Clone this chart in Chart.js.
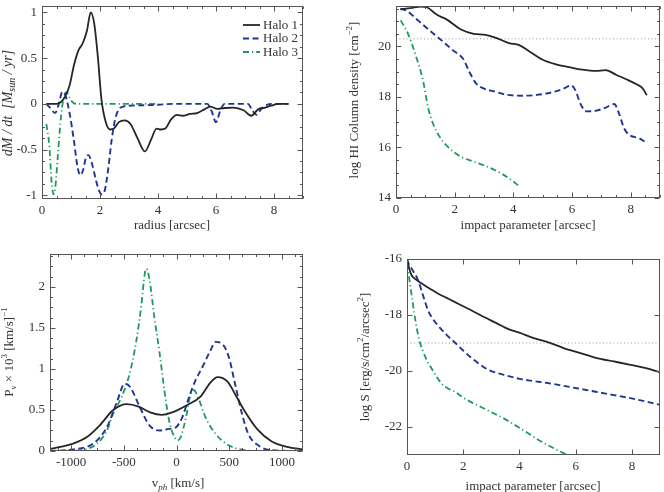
<!DOCTYPE html>
<html>
<head>
<meta charset="utf-8">
<script src="https://cdn.jsdelivr.net/npm/chart.js@4.4.0/dist/chart.umd.min.js"></script>
<style>
  html, body { margin: 0; padding: 0; background: #fff; }
  #wrap { position: relative; width: 664px; height: 492px; }
  #wrap canvas { position: absolute; left: 0; top: 0; }
</style>
</head>
<body>
<div id="wrap">
  <canvas id="c1" width="664" height="492"></canvas>
  <canvas id="c2" width="664" height="492"></canvas>
  <canvas id="c3" width="664" height="492"></canvas>
  <canvas id="c4" width="664" height="492"></canvas>
</div>
<script>
// ---- data ----
const haloNames = ['Halo 1', 'Halo 2', 'Halo 3'];

// panel 1: dM/dt vs radius
const rateR1 = [0.15,0.5,0.65,0.8,0.95,1.1,1.25,1.4,1.55,1.68,1.8,1.93,2.05,2.2,2.35,2.48,2.65,2.85,3.05,3.3,3.55,3.75,3.95,4.1,4.25,4.45,4.65,4.85,5.1,5.35,5.6,5.8,6.05,6.3,6.6,6.95,7.22,7.45,7.7,7.9,8.15,8.5];
const rate1  = [0,0,0.02,0.08,0.2,0.42,0.58,0.66,0.8,1.0,0.88,0.5,0.05,-0.2,-0.28,-0.27,-0.2,-0.18,-0.22,-0.38,-0.52,-0.4,-0.27,-0.28,-0.27,-0.17,-0.12,-0.13,-0.11,-0.1,-0.06,-0.03,-0.055,-0.045,-0.04,-0.07,-0.13,-0.06,-0.04,-0.02,0,0];
const rateR2 = [0.15,0.3,0.45,0.58,0.7,0.82,0.95,1.1,1.22,1.32,1.42,1.52,1.6,1.72,1.85,1.97,2.07,2.17,2.28,2.4,2.52,2.65,2.8,3.0,3.5,4.0,4.5,5.0,5.7,5.85,6.0,6.15,6.3,7.1,7.25,7.4,7.55,7.75,8.0,8.5];
const rate2  = [0,-0.05,-0.1,0.0,0.13,0.08,-0.1,-0.4,-0.68,-0.78,-0.72,-0.58,-0.56,-0.65,-0.82,-0.95,-0.99,-0.94,-0.72,-0.4,-0.17,-0.06,-0.03,-0.02,-0.015,-0.01,0,0,0,-0.08,-0.2,-0.07,0,0,-0.07,-0.12,-0.06,-0.01,0,0];
const rateR3 = [0.15,0.25,0.33,0.4,0.47,0.55,0.63,0.7,0.78,0.85,0.95,1.05,1.2,2.0,3.0,4.0];
const rate3  = [-0.22,-0.45,-0.85,-0.99,-0.88,-0.55,-0.22,-0.02,0.1,0.13,0.07,0.02,0,0,0,0];
const rateXTicks = [0, 2, 4, 6, 8];
const rateYTicks = [-1, -0.5, 0, 0.5, 1];

// panel 2: log HI column density vs impact parameter
const colB1 = [0.15,0.5,0.85,1.05,1.4,1.75,2.2,2.65,3.05,3.45,3.85,4.2,4.55,5.0,5.45,5.9,6.35,6.8,7.15,7.5,7.85,8.2,8.4,8.55];
const col1  = [21.47,21.52,21.58,21.55,21.25,21.05,20.68,20.5,20.46,20.32,20.13,20.05,19.8,19.47,19.29,19.18,19.08,19.03,19.06,18.88,18.7,18.5,18.35,18.07];
const colB2 = [0.15,0.35,0.75,1.15,1.55,1.95,2.28,2.5,2.72,3.0,3.35,3.8,4.3,4.8,5.3,5.7,5.97,6.12,6.3,6.5,6.8,7.15,7.44,7.6,7.78,7.95,8.3,8.57];
const col2  = [21.49,21.42,21.03,20.63,20.24,19.84,19.52,19.0,18.55,18.33,18.22,18.08,18.05,18.08,18.18,18.32,18.46,18.25,17.7,17.43,17.45,17.58,17.72,17.35,16.75,16.5,16.36,16.16];
const colB3 = [0.16,0.41,0.69,0.92,1.09,1.26,1.49,1.77,2.22,2.68,3.13,3.59,3.93,4.22];
const col3  = [21.03,20.5,19.58,18.66,17.6,16.95,16.42,16.02,15.63,15.43,15.23,14.97,14.71,14.45];
const colLimit = 20.3;
const colXTicks = [0, 2, 4, 6, 8];
const colYTicks = [14, 16, 18, 20];

// panel 3: velocity distribution
const velV1 = [-1200,-1100,-980,-850,-730,-600,-470,-360,-250,-140,-40,100,225,320,390,480,570,640,770,900,1050,1200];
const velP1 = [0.025,0.05,0.09,0.17,0.31,0.5,0.57,0.54,0.47,0.44,0.47,0.56,0.66,0.83,0.9,0.85,0.66,0.5,0.26,0.12,0.05,0.02];
const velV2 = [-1200,-980,-790,-660,-570,-490,-440,-350,-255,-160,-70,-5,55,120,180,245,320,370,430,495,555,620,680,775,900,1200];
const velP2 = [0,0.02,0.09,0.29,0.58,0.82,0.78,0.54,0.31,0.25,0.27,0.29,0.41,0.66,0.86,1.02,1.22,1.33,1.31,1.15,0.82,0.46,0.21,0.07,0.01,0];
const velV3 = [-1200,-910,-755,-660,-600,-520,-445,-380,-335,-300,-285,-255,-210,-160,-115,-70,-20,10,40,90,135,165,215,275,370,495,650,800,1200];
const velP3 = [0,0.01,0.09,0.25,0.46,0.66,0.94,1.35,1.76,2.17,2.22,2.08,1.63,1.19,0.74,0.37,0.17,0.13,0.17,0.41,0.7,0.74,0.62,0.41,0.21,0.07,0.01,0,0];
const velXTicks = [-1000, -500, 0, 500, 1000];
const velYTicks = [0, 0.5, 1, 1.5, 2];

// panel 4: surface brightness vs impact parameter
const sbB1 = [0,0.08,0.16,0.3,0.51,0.8,1.11,1.41,1.71,2.0,2.3,2.6,2.9,3.2,3.49,3.79,4.08,4.38,4.98,5.57,6.17,6.76,7.36,7.95,8.5,9.0];
const sb1  = [-16.0,-16.35,-16.57,-16.72,-16.87,-17.05,-17.24,-17.39,-17.54,-17.69,-17.84,-18.0,-18.15,-18.3,-18.45,-18.57,-18.66,-18.78,-18.96,-19.18,-19.36,-19.54,-19.66,-19.78,-19.9,-20.05];
const sbB2 = [0,0.05,0.2,0.39,0.57,0.75,0.93,1.11,1.4,1.71,2.0,2.3,2.6,2.9,3.2,3.49,4.0,4.5,5.0,5.57,6.17,6.76,7.36,7.95,8.5,9.0];
const sb2  = [-16.0,-16.15,-16.4,-16.75,-17.3,-17.84,-18.15,-18.39,-18.7,-18.99,-19.27,-19.54,-19.77,-19.96,-20.07,-20.15,-20.28,-20.36,-20.43,-20.53,-20.64,-20.75,-20.86,-20.97,-21.09,-21.21];
const sbB3 = [0,0.06,0.13,0.21,0.3,0.39,0.48,0.57,0.72,0.87,1.05,1.23,1.45,1.71,2.0,2.3,2.6,2.9,3.2,3.49,3.79,4.08,4.38,4.56,4.98,5.4,5.8];
const sb3  = [-16.15,-16.57,-17.05,-17.6,-18.2,-18.69,-19.05,-19.3,-19.65,-19.9,-20.2,-20.45,-20.62,-20.75,-20.95,-21.12,-21.27,-21.42,-21.57,-21.72,-21.9,-22.08,-22.27,-22.39,-22.63,-22.85,-23.05];
const sbLimit = -19;
const sbXTicks = [0, 2, 4, 6, 8];
const sbYTicks = [-22, -20, -18, -16];

// ---- styling ----
const FONT = '"Liberation Serif", "Times New Roman", serif';
const TXT = '#333';
const styles = [
  { color: '#262626', dash: [], width: 1.8 },
  { color: '#1f3592', dash: [6, 3.5], width: 1.9 },
  { color: '#1f9a5c', dash: [6, 3, 1.2, 3], width: 1.8 }
];

const pts = (xs, ys) => xs.map((x, i) => ({ x, y: ys[i] }));

function haloSets(list) {
  return list.map((d, i) => ({
    label: haloNames[i],
    data: pts(d[0], d[1]),
    borderColor: styles[i].color,
    borderDash: styles[i].dash,
    borderWidth: styles[i].width,
    fill: false
  }));
}

function limitSet(x0, x1, y) {
  return {
    label: 'limit',
    data: [{ x: x0, y }, { x: x1, y }],
    borderColor: '#9a9a9a', borderDash: [1, 2.5], borderWidth: 1, fill: false
  };
}

// rich text: parts = [[text, style]], style may contain i / sub / sup
function drawRich(ctx, parts, x, y, rot, size) {
  const fontFor = st => (st.indexOf('i') === 0 ? 'italic ' : '') +
    ((st.includes('sub') || st.includes('sup')) ? Math.round(size * 0.72) : size) + 'px ' + FONT;
  ctx.save();
  ctx.translate(x, y);
  if (rot) ctx.rotate(-Math.PI / 2);
  let w = 0;
  parts.forEach(p => { ctx.font = fontFor(p[1]); w += ctx.measureText(p[0]).width; });
  let cx = -w / 2;
  ctx.textBaseline = 'middle';
  ctx.fillStyle = TXT;
  parts.forEach(p => {
    ctx.font = fontFor(p[1]);
    const dy = p[1].includes('sub') ? size * 0.3 : p[1].includes('sup') ? -size * 0.38 : 0;
    ctx.fillText(p[0], cx, dy);
    cx += ctx.measureText(p[0]).width;
  });
  ctx.restore();
}

// matlab-like box with inward ticks, titles and legend
const framePlugin = {
  id: 'frame',
  afterDraw(chart, args, o) {
    const { ctx, chartArea: a, scales } = chart;
    const L = Math.round(a.left) + 0.5, R = Math.round(a.right) - 0.5;
    const T = Math.round(a.top) + 0.5, B = Math.round(a.bottom) - 0.5;
    ctx.save();
    ctx.strokeStyle = '#555';
    ctx.lineWidth = 1;
    ctx.setLineDash([]);
    ctx.strokeRect(L, T, R - L, B - T);

    const tickSet = (scale, minor) => {
      const vals = scale.ticks.map(t => t.value);
      const out = { major: vals, minor: [] };
      if (minor && vals.length > 1) {
        const ms = (vals[1] - vals[0]) / minor;
        for (let v = Math.ceil(scale.min / ms) * ms; v <= scale.max + 1e-9; v += ms) {
          if (!vals.some(m => Math.abs(m - v) < ms / 10)) out.minor.push(v);
        }
      }
      return out;
    };
    ctx.beginPath();
    const xs = tickSet(scales.x, o.minor);
    [[xs.major, 5], [xs.minor, 2.5]].forEach(([vals, len]) => vals.forEach(v => {
      const p = Math.round(scales.x.getPixelForValue(v)) + 0.5;
      ctx.moveTo(p, B); ctx.lineTo(p, B - len);
      ctx.moveTo(p, T); ctx.lineTo(p, T + len);
    }));
    const ys = tickSet(scales.y, o.minor);
    [[ys.major, 5], [ys.minor, 2.5]].forEach(([vals, len]) => vals.forEach(v => {
      const p = Math.round(scales.y.getPixelForValue(v)) + 0.5;
      ctx.moveTo(L, p); ctx.lineTo(L + len, p);
      ctx.moveTo(R, p); ctx.lineTo(R - len, p);
    }));
    ctx.stroke();

    (o.titles || []).forEach(t => drawRich(ctx, t.parts, t.x, t.y, t.rot, t.size || 13));

    if (o.legend) {
      const lg = o.legend;
      chart.data.datasets.slice(0, 3).forEach((ds, i) => {
        const y = lg.y + i * lg.dy;
        ctx.beginPath();
        ctx.strokeStyle = ds.borderColor;
        ctx.lineWidth = ds.borderWidth;
        ctx.setLineDash(ds.borderDash || []);
        ctx.moveTo(lg.x, y); ctx.lineTo(lg.x + lg.len, y);
        ctx.stroke();
        ctx.setLineDash([]);
        ctx.fillStyle = TXT;
        ctx.font = '13px ' + FONT;
        ctx.textBaseline = 'middle';
        ctx.fillText(ds.label, lg.x + lg.len + 3, y + 0.5);
      });
    }
    ctx.restore();
  }
};

// plot box in page pixels: [left, top, right, bottom]
function panel(id, datasets, box, xr, yr, xTicks, yTicks, frame) {
  const YW = 40, XH = 20;
  const noPad = s => { s.paddingTop = 0; s.paddingBottom = 0; s.paddingLeft = 0; s.paddingRight = 0; };
  return new Chart(document.getElementById(id), {
    type: 'line',
    data: { datasets },
    options: {
      responsive: false,
      animation: false,
      layout: { padding: { left: box[0] - YW, top: box[1], right: 664 - box[2], bottom: 492 - box[3] - XH } },
      elements: { point: { radius: 0 }, line: { cubicInterpolationMode: 'monotone', borderCapStyle: 'butt' } },
      plugins: { legend: { display: false }, tooltip: { enabled: false }, frame },
      scales: {
        x: {
          type: 'linear', min: xr[0], max: xr[1],
          grid: { display: false, drawTicks: false }, border: { display: false },
          afterBuildTicks: s => { s.ticks = xTicks.map(v => ({ value: v })); },
          afterFit: s => { s.height = XH; noPad(s); },
          ticks: { font: { family: FONT, size: 13 }, color: TXT, padding: 4, maxRotation: 0, autoSkip: false, callback: v => String(v) }
        },
        y: {
          type: 'linear', min: yr[0], max: yr[1],
          grid: { display: false, drawTicks: false }, border: { display: false },
          afterBuildTicks: s => { s.ticks = yTicks.map(v => ({ value: v })); },
          afterFit: s => { s.width = YW; noPad(s); },
          ticks: { font: { family: FONT, size: 13 }, color: TXT, padding: 5, autoSkip: false, callback: v => String(v) }
        }
      }
    },
    plugins: [framePlugin]
  });
}

panel('c1',
  haloSets([[rateR1, rate1], [rateR2, rate2], [rateR3, rate3]]),
  [42, 6, 303, 199], [0, 9], [-1.04, 1.07], rateXTicks, rateYTicks,
  { minor: 4,
    legend: { x: 243, y: 25, dy: 13.5, len: 17 },
    titles: [
      { parts: [['radius [arcsec]', '']], x: 172, y: 226 },
      { parts: [['dM / dt  [M', 'i'], ['sun', 'isub'], [' / yr]', 'i']], x: 8, y: 103, rot: true, size: 14 }
    ] });

panel('c2',
  haloSets([[colB1, col1], [colB2, col2], [colB3, col3]]).concat([limitSet(0, 9, colLimit)]),
  [396, 6, 660, 198], [0, 9], [14, 21.6], colXTicks, colYTicks,
  { minor: 4,
    titles: [
      { parts: [['impact parameter [arcsec]', '']], x: 528, y: 226 },
      { parts: [['log HI Column density [cm', ''], ['\u22122', 'sup'], [']', '']], x: 355, y: 100, rot: true }
    ] });

panel('c3',
  haloSets([[velV1, velP1], [velV2, velP2], [velV3, velP3]]),
  [50, 254, 303, 451], [-1200, 1200], [0, 2.4], velXTicks, velYTicks,
  { minor: 4,
    titles: [
      { parts: [['v', ''], ['ph', 'isub'], [' [km/s]', '']], x: 178, y: 484 },
      { parts: [['P', ''], ['\u03bd', 'sub'], [' \u00d7 10', ''], ['3', 'sup'], [' [km/s]', ''], ['\u22121', 'sup']], x: 10, y: 352, rot: true }
    ] });

panel('c4',
  haloSets([[sbB1, sb1], [sbB2, sb2], [sbB3, sb3]]).concat([limitSet(0, 9, sbLimit)]),
  [407, 259, 660, 455], [0, 9], [-23, -16], sbXTicks, sbYTicks,
  { minor: 0,
    titles: [
      { parts: [['impact parameter [arcsec]', '']], x: 533, y: 487 },
      { parts: [['log S [erg/s/cm', ''], ['2', 'sup'], ['/arcsec', ''], ['2', 'sup'], [']', '']], x: 366, y: 357, rot: true }
    ] });
</script>
</body>
</html>
